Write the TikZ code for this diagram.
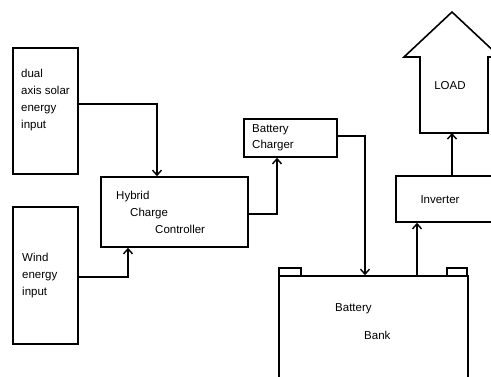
\documentclass[tikz,border=0pt]{standalone}
\usepackage{fontspec}
\setmainfont{Liberation Sans}
\usetikzlibrary{arrows.meta}
\tikzset{
  box/.style={draw, line width=1.6pt, inner sep=0pt, anchor=center},
  txt/.style={anchor=base west, inner sep=0pt, font=\fontsize{11.5}{14}\selectfont},
  ctxt/.style={anchor=base, inner sep=0pt, font=\fontsize{11.5}{14}\selectfont},
  arr/.style={line width=1.6pt, -{Straight Barb[length=5pt,width=9pt,line width=1.4pt]}},
  wire/.style={line width=1.6pt}
}
\begin{document}
\begin{tikzpicture}[x=1pt,y=-1pt]
\useasboundingbox (0,0) rectangle (491,376);
\clip (0,0) rectangle (491,376);
% boxes
\node[box, minimum width=65pt, minimum height=126pt] (solar) at (45.5,111) {};
\node[box, minimum width=65pt, minimum height=137pt] (wind) at (45.5,275.5) {};
\node[box, minimum width=147pt, minimum height=70pt] (hybrid) at (174.5,212) {};
\node[box, minimum width=93pt, minimum height=38pt] (charger) at (290.5,138) {};
\node[box, minimum width=189pt, minimum height=120pt] (battery) at (373.5,336) {};
\node[box, minimum width=104pt, minimum height=46pt] (inverter) at (448,199) {};
% battery terminals
\draw[wire] (279,276) -- (279,268) -- (301,268) -- (301,276);
\draw[wire] (447,276) -- (447,268) -- (467,268) -- (467,276);
% LOAD arrow shape
\draw[wire, line join=miter] (452,12) -- (404,57) -- (420,57) -- (420,133) -- (488,133) -- (488,57) -- (500,57) -- cycle;
\coordinate (loadbase) at (452,133);
% texts
\node[txt] (s1) at (21,77) {dual};
\node[txt] (s2) at (21,94) {axis solar};
\node[txt] (s3) at (21,111) {energy};
\node[txt] (s4) at (21,128) {input};
\node[txt] (w1) at (22,261) {Wind};
\node[txt] (w2) at (22,278) {energy};
\node[txt] (w3) at (22,295) {input};
\node[txt] (h1) at (116,199) {Hybrid};
\node[txt] (h2) at (130,216) {Charge};
\node[txt] (h3) at (155,233) {Controller};
\node[txt] (c1) at (252,132) {Battery};
\node[txt] (c2) at (252,148) {Charger};
\node[ctxt] (i1) at (440,203) {Inverter};
\node[ctxt] (l1) at (450,89) {LOAD};
\node[txt] (b1) at (335,311) {Battery};
\node[txt] (b2) at (364,339) {Bank};
% connectors
\draw[arr] ([yshift=7pt]solar.east) -| ([xshift=-17.5pt]hybrid.north);
\draw[arr] ([yshift=-1.5pt]wind.east) -| ([xshift=-46.5pt]hybrid.south);
\draw[arr] ([yshift=-2pt]hybrid.east) -| ([xshift=-13.5pt]charger.south);
\draw[arr] ([yshift=2pt]charger.east) -| ([xshift=-8.5pt]battery.north);
\draw[arr] ([xshift=43.5pt]battery.north) -- ([xshift=43.5pt]battery.north |- inverter.south);
\draw[arr] ([xshift=4pt]inverter.north) -- (loadbase);
\end{tikzpicture}
\end{document}
